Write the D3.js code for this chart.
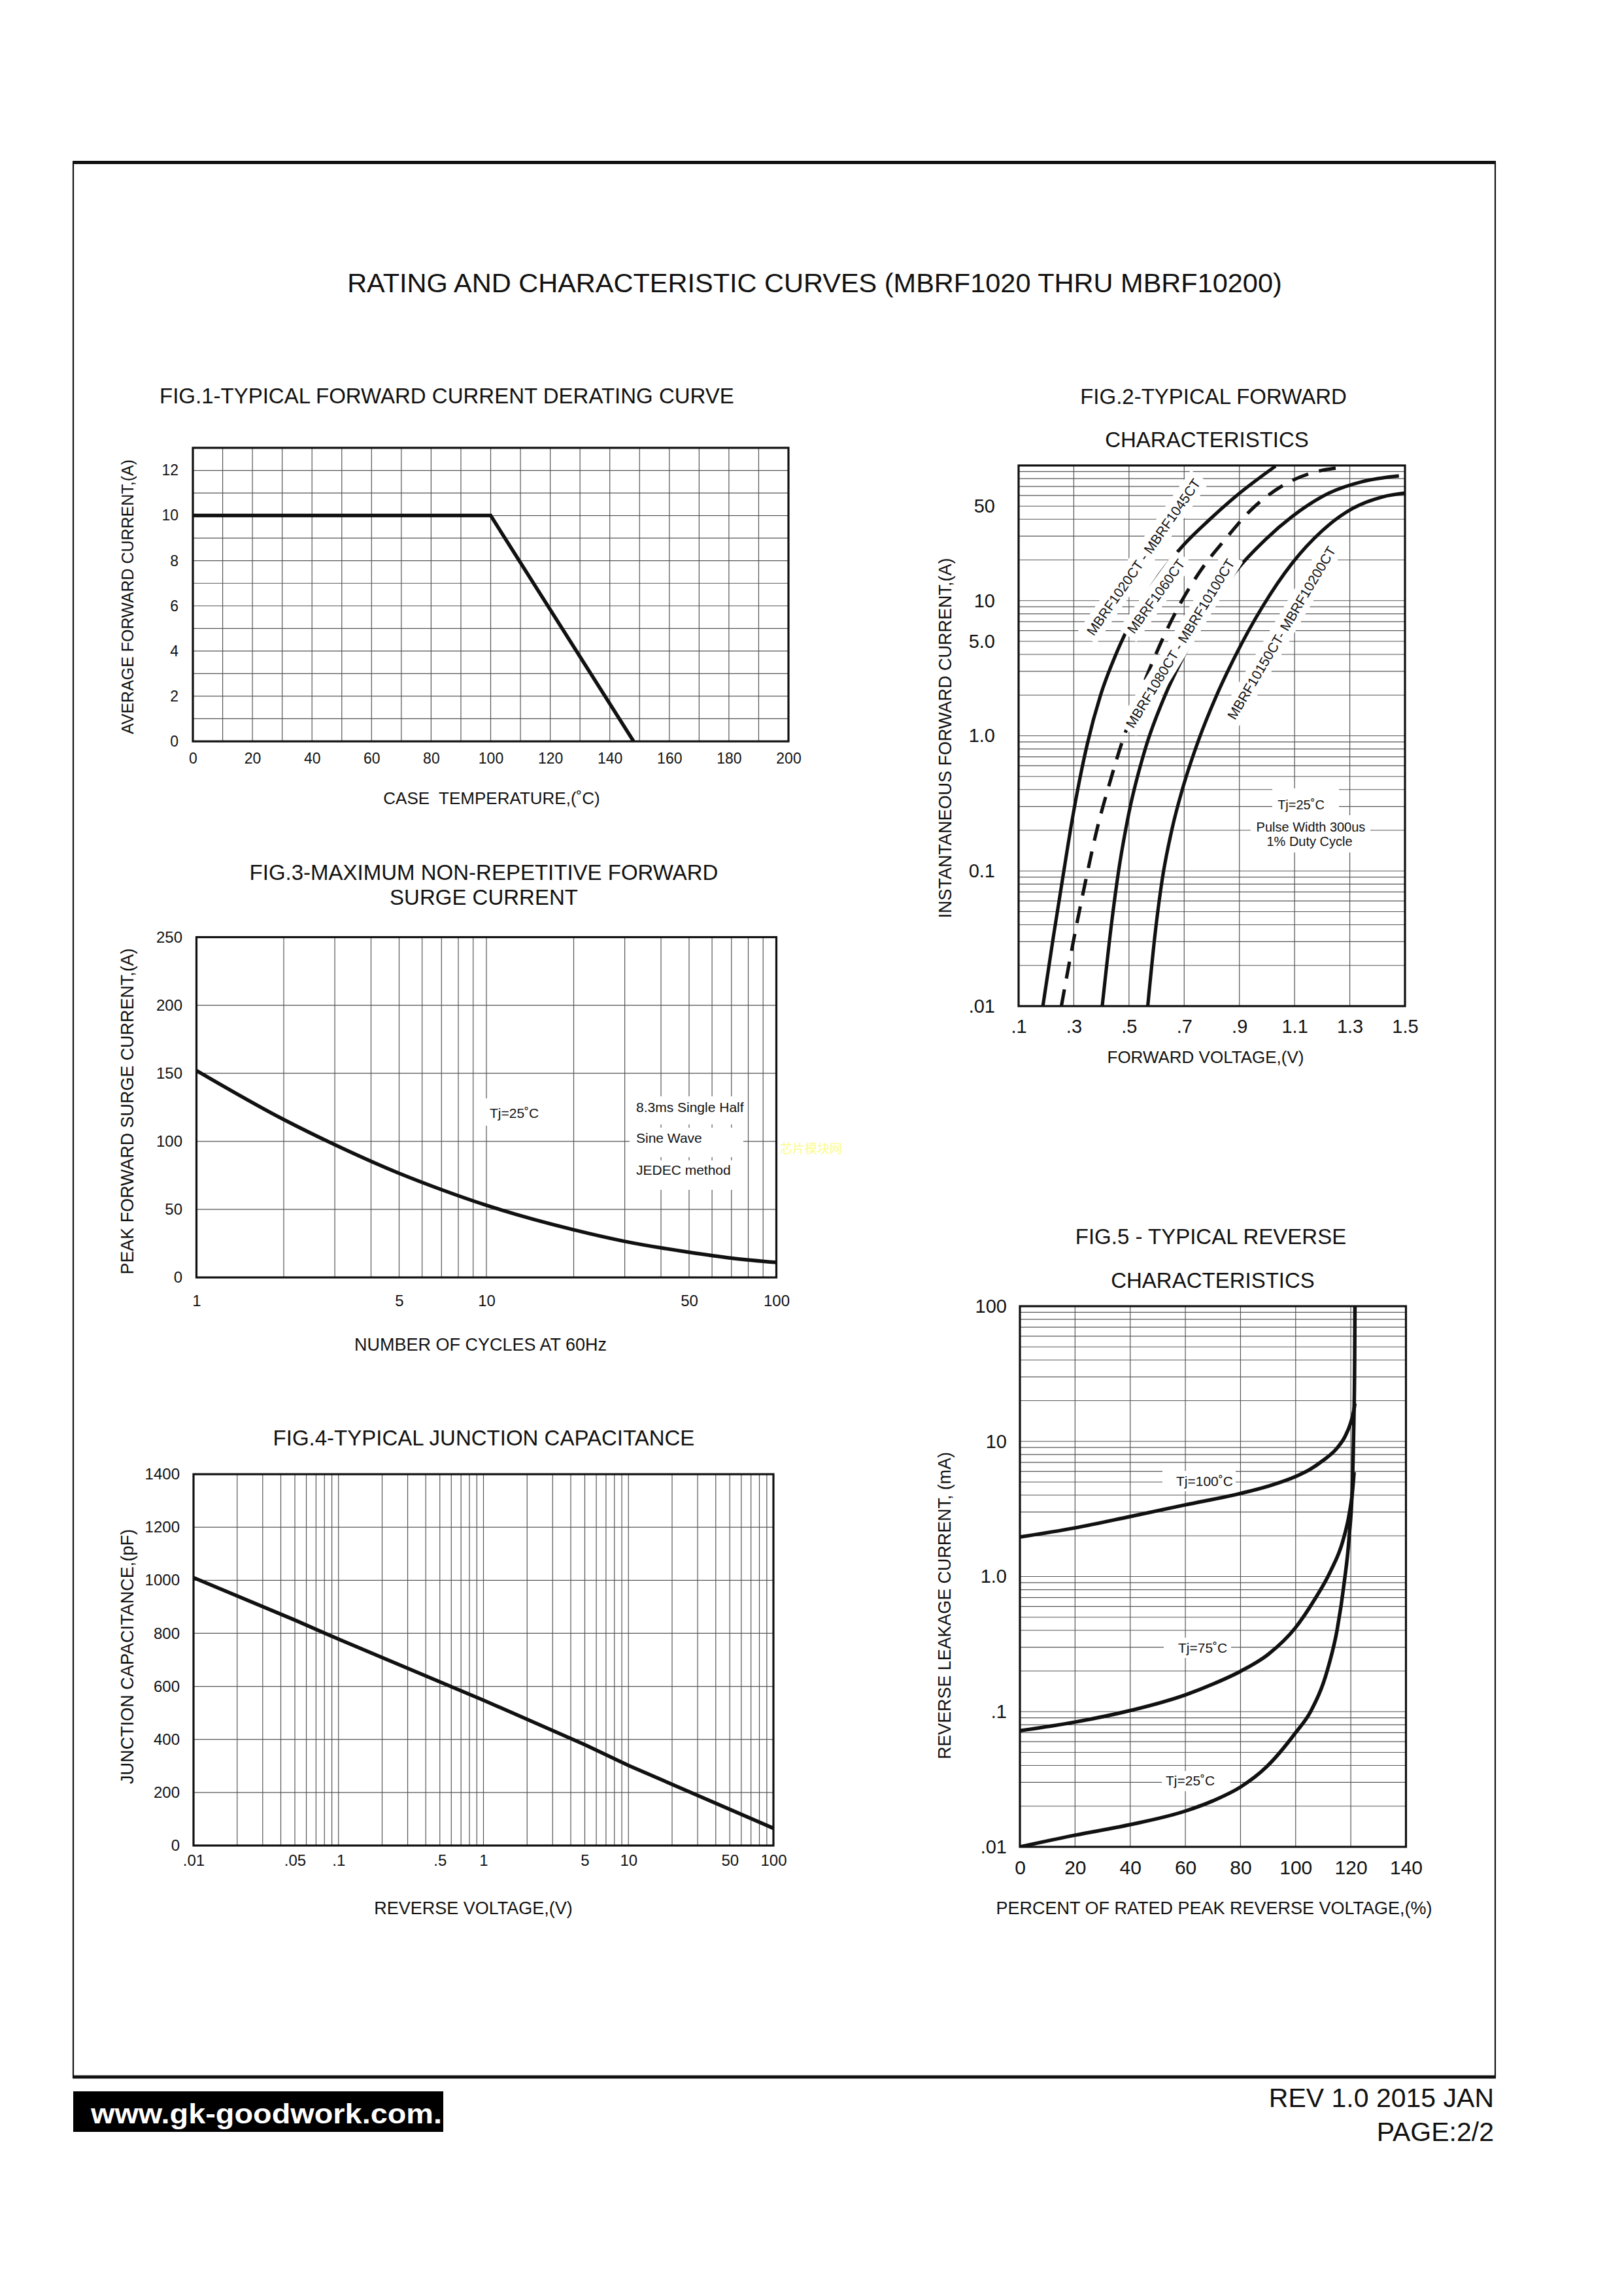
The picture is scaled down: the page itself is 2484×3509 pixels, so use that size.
<!DOCTYPE html>
<html><head><meta charset="utf-8"><title>MBRF1020 thru MBRF10200 curves</title>
<script src="https://cdn.jsdelivr.net/npm/d3@7/dist/d3.min.js"></script>
<style>html,body{margin:0;padding:0;background:#fff}svg{display:block}</style>
</head><body>
<svg id="page" width="2484" height="3509" xmlns="http://www.w3.org/2000/svg"></svg>
<script>
// ================= DATA =================
// Fig.1 derating curve
const fig1Temp = [0, 100, 148];
const fig1Current = [10, 10, 0];
const fig1XTicks = [0, 20, 40, 60, 80, 100, 120, 140, 160, 180, 200];
const fig1YTicks = [0, 2, 4, 6, 8, 10, 12];
const fig1XGrid = [10, 20, 30, 40, 50, 60, 70, 80, 90, 100, 110, 120, 130, 140, 150, 160, 170, 180, 190];
const fig1YGrid = [1, 2, 3, 4, 5, 6, 7, 8, 9, 10, 11, 12];

// Fig.2 forward characteristics (V, A)
const fig2VoltA = [0.188, 0.225, 0.26, 0.296, 0.349, 0.397, 0.452, 0.492, 0.586, 0.697, 0.792, 0.886, 1.031];
const fig2CurrA = [0.01, 0.0316, 0.0891, 0.251, 0.871, 2.0, 3.98, 6.03, 13.2, 25.7, 39.8, 58.9, 98.9];
const fig2VoltB = [0.255, 0.291, 0.337, 0.388, 0.43, 0.476, 0.519, 0.543, 0.626, 0.689, 0.764, 0.851, 0.942, 1.056, 1.183, 1.25];
const fig2CurrB = [0.01, 0.0251, 0.0741, 0.219, 0.447, 0.912, 1.58, 2.14, 5.43, 9.77, 17.2, 28.8, 46.8, 70.8, 90.4, 95.5];
const fig2VoltC = [0.403, 0.439, 0.463, 0.499, 0.560, 0.632, 0.693, 0.789, 0.886, 0.995, 1.091, 1.225, 1.345, 1.478];
const fig2CurrC = [0.01, 0.0445, 0.102, 0.264, 0.813, 2.02, 3.70, 8.37, 16.4, 28.4, 41.9, 62.5, 75.9, 83.8];
const fig2VoltD = [0.568, 0.596, 0.620, 0.657, 0.693, 0.753, 0.814, 0.886, 0.983, 1.091, 1.200, 1.309, 1.418, 1.500];
const fig2CurrD = [0.01, 0.0363, 0.0855, 0.209, 0.399, 0.94, 1.92, 3.93, 8.97, 18.9, 32.9, 47.9, 58.5, 62.5];
const fig2SeriesNames = ["MBRF1020CT - MBRF1045CT", "MBRF1060CT", "MBRF1080CT - MBRF10100CT", "MBRF10150CT- MBRF10200CT"];
const fig2XTicks = [0.1, 0.3, 0.5, 0.7, 0.9, 1.1, 1.3, 1.5];
const fig2XLabels = [".1", ".3", ".5", ".7", ".9", "1.1", "1.3", "1.5"];
const fig2YTicks = [50, 10, 5, 1, 0.1, 0.01];
const fig2YLabels = ["50", "10", "5.0", "1.0", "0.1", ".01"];
const fig2Notes = ["Tj=25˚C", "Pulse Width 300us", "1% Duty Cycle"];

// Fig.3 surge current
const fig3Cycles = [1, 2, 3, 5, 7, 10, 20, 30, 50, 70, 100];
const fig3Surge = [152, 116, 97.5, 76.5, 64.5, 53, 35, 26.5, 18.5, 14.2, 11];
const fig3XTicks = [1, 5, 10, 50, 100];
const fig3YTicks = [0, 50, 100, 150, 200, 250];
const fig3Notes = ["8.3ms Single Half", "Sine Wave", "JEDEC method"];

// Fig.4 junction capacitance
const fig4Volt = [0.01, 0.05, 0.1, 1, 5, 10, 100];
const fig4Cap = [1010, 850, 778, 548, 380, 302, 65];
const fig4XTicks = [0.01, 0.05, 0.1, 0.5, 1, 5, 10, 50, 100];
const fig4XLabels = [".01", ".05", ".1", ".5", "1", "5", "10", "50", "100"];
const fig4YTicks = [0, 200, 400, 600, 800, 1000, 1200, 1400];

// Fig.5 reverse characteristics (% of VRRM, mA)
const fig5Pct100 = [0, 20, 40, 60, 80, 90, 100, 105, 110, 115, 118, 120, 121, 121.5];
const fig5Cur100 = [1.96, 2.29, 2.78, 3.39, 4.12, 4.66, 5.5, 6.17, 7.24, 8.91, 10.96, 13.8, 16.6, 19.05];
const fig5Pct75 = [0, 20, 40, 60, 70, 80, 90, 100, 106.6, 112.7, 117, 119.4, 120.6, 121.2];
const fig5Cur75 = [0.0723, 0.0838, 0.102, 0.133, 0.160, 0.199, 0.265, 0.42, 0.662, 1.10, 1.80, 2.88, 4.25, 5.92];
const fig5Pct25 = [0, 20, 40, 60, 70, 80, 89.4, 100, 105.4, 111.5, 115.1, 117.6, 119.4, 120.6, 121.1, 121.4, 121.5];
const fig5Cur25 = [0.01, 0.0122, 0.0146, 0.0184, 0.0219, 0.0277, 0.039, 0.07, 0.1, 0.203, 0.41, 0.9, 1.96, 5, 13.8, 40, 100];
const fig5XTicks = [0, 20, 40, 60, 80, 100, 120, 140];
const fig5YTicks = [100, 10, 1, 0.1, 0.01];
const fig5YLabels = ["100", "10", "1.0", ".1", ".01"];
const fig5Labels = ["Tj=100˚C", "Tj=75˚C", "Tj=25˚C"];

// ================= DRAWING =================
const FONT = '"Liberation Sans", Arial, Helvetica, sans-serif';
const INK = '#111';
const GRID = '#555';
const svg = d3.select('#page');
const defs = svg.append('defs');
svg.append('rect').attr('width', 2484).attr('height', 3509).attr('fill', '#fff');

function text(parent, x, y, s, size, opts = {}) {
  const t = parent.append('text').attr('x', x).attr('y', y).text(s)
    .attr('font-family', opts.family || FONT).attr('font-size', size)
    .attr('fill', opts.fill || INK)
    .attr('text-anchor', opts.anchor || 'start');
  if (opts.weight) t.attr('font-weight', opts.weight);
  if (opts.length) t.attr('textLength', opts.length).attr('lengthAdjust', 'spacingAndGlyphs');
  if (opts.pre) t.style('white-space', 'pre');
  return t;
}
function vtext(parent, x, y, s, size, length) {
  const g = parent.append('g').attr('transform', `translate(${x},${y}) rotate(-90)`);
  text(g, 0, 0, s, size, {anchor: 'middle', length: length});
}
function vgrid(g, xs, vals, y0, y1) {
  g.append('g').selectAll('line').data(vals).join('line')
    .attr('x1', d => xs(d)).attr('x2', d => xs(d)).attr('y1', y0).attr('y2', y1)
    .attr('stroke', GRID).attr('stroke-width', 1.2);
}
function hgrid(g, ys, vals, x0, x1) {
  g.append('g').selectAll('line').data(vals).join('line')
    .attr('y1', d => ys(d)).attr('y2', d => ys(d)).attr('x1', x0).attr('x2', x1)
    .attr('stroke', GRID).attr('stroke-width', 1.2);
}
function frame(g, x0, y0, x1, y1) {
  g.append('rect').attr('x', x0).attr('y', y0).attr('width', x1 - x0).attr('height', y1 - y0)
    .attr('fill', 'none').attr('stroke', INK).attr('stroke-width', 3.2);
}
function styleAxis(a, size) {
  a.select('.domain').remove();
  a.selectAll('line').remove();
  a.attr('font-family', FONT).attr('font-size', size).attr('fill', null);
  a.selectAll('text').attr('fill', INK);
}
function bottomAxis(g, scale, y, vals, labels, size, pad) {
  const a = g.append('g').attr('transform', `translate(0,${y})`)
    .call(d3.axisBottom(scale).tickValues(vals).tickFormat((d, i) => labels ? labels[i] : d).tickSize(0).tickPadding(pad));
  styleAxis(a, size);
}
function leftAxis(g, scale, x, vals, labels, size, pad) {
  const a = g.append('g').attr('transform', `translate(${x},0)`)
    .call(d3.axisLeft(scale).tickValues(vals).tickFormat((d, i) => labels ? labels[i] : d).tickSize(0).tickPadding(pad));
  styleAxis(a, size);
}
function clip(id, x0, y0, x1, y1) {
  defs.append('clipPath').attr('id', id).append('rect')
    .attr('x', x0).attr('y', y0).attr('width', x1 - x0).attr('height', y1 - y0);
}
function logMinor(lo, hi) {
  const out = [];
  for (let e = Math.round(Math.log10(lo)); e < Math.round(Math.log10(hi)); e++) {
    for (let m = 1; m <= 9; m++) { const v = m * Math.pow(10, e); if (v > lo * 1.0001) out.push(v); }
  }
  return out;
}
function whiteBox(g, x0, y0, x1, y1) {
  g.append('rect').attr('x', x0).attr('y', y0).attr('width', x1 - x0).attr('height', y1 - y0).attr('fill', '#fff');
}

// ---------- page frame ----------
svg.append('line').attr('x1', 112).attr('x2', 112).attr('y1', 248).attr('y2', 3178).attr('stroke', INK).attr('stroke-width', 2.2);
svg.append('line').attr('x1', 2287).attr('x2', 2287).attr('y1', 248).attr('y2', 3178).attr('stroke', INK).attr('stroke-width', 2.2);
svg.append('line').attr('x1', 111).attr('x2', 2288).attr('y1', 248.5).attr('y2', 248.5).attr('stroke', INK).attr('stroke-width', 5);
svg.append('line').attr('x1', 111).attr('x2', 2288).attr('y1', 3177).attr('y2', 3177).attr('stroke', INK).attr('stroke-width', 5);

text(svg, 1246, 447, 'RATING AND CHARACTERISTIC CURVES (MBRF1020 THRU MBRF10200)', 41.5, {anchor: 'middle'});

// footer
svg.append('rect').attr('x', 112).attr('y', 3199).attr('width', 566).attr('height', 62).attr('fill', '#000');
text(svg, 139, 3248, 'www.gk-goodwork.com.', 42, {fill: '#fff', weight: 'bold', length: 537});
text(svg, 2285, 3223, 'REV 1.0 2015 JAN', 41, {anchor: 'end'});
text(svg, 2285, 3275, 'PAGE:2/2', 41, {anchor: 'end'});

// ---------- FIG.1 ----------
(function () {
  const g = svg.append('g');
  const L = 295, R = 1206, T = 685, B = 1134;
  const x = d3.scaleLinear([0, 200], [L, R]);
  const y = d3.scaleLinear([0, 13], [B, T]);
  vgrid(g, x, fig1XGrid, T, B);
  hgrid(g, y, fig1YGrid, L, R);
  g.append('path').datum(d3.zip(fig1Temp, fig1Current))
    .attr('d', d3.line().x(d => x(d[0])).y(d => y(d[1])))
    .attr('fill', 'none').attr('stroke', INK).attr('stroke-width', 5.5).attr('stroke-linejoin', 'miter');
  frame(g, L, T, R, B);
  bottomAxis(g, x, B, fig1XTicks, null, 23, 17.5);
  leftAxis(g, y, L, fig1YTicks, null, 23, 22);
  text(g, 244, 617, 'FIG.1-TYPICAL FORWARD CURRENT DERATING CURVE', 33);
  text(g, 752, 1230, 'CASE  TEMPERATURE,(˚C)', 26, {anchor: 'middle', pre: true});
  vtext(g, 204, 913, 'AVERAGE FORWARD CURRENT,(A)', 26, 420);
})();

// ---------- FIG.2 ----------
(function () {
  const g = svg.append('g');
  const L = 1558, R = 2149, T = 712, B = 1539;
  const x = d3.scaleLinear([0.1, 1.5], [L, R]);
  const y = d3.scaleLog([0.01, 100], [B, T]);
  clip('clip2', L, T, R, B);
  hgrid(g, y, logMinor(0.01, 100), L, R);
  vgrid(g, x, [0.3, 0.5, 0.7, 0.9, 1.1, 1.3], T, B);
  const line = d3.line().x(d => x(d[0])).y(d => y(d[1])).curve(d3.curveMonotoneX);
  const cg = g.append('g').attr('clip-path', 'url(#clip2)');
  const series = [[fig2VoltA, fig2CurrA, false], [fig2VoltB, fig2CurrB, true], [fig2VoltC, fig2CurrC, false], [fig2VoltD, fig2CurrD, false]];
  series.forEach(s => {
    cg.append('path').datum(d3.zip(s[0], s[1])).attr('d', line)
      .attr('fill', 'none').attr('stroke', INK).attr('stroke-width', 5.2)
      .attr('stroke-dasharray', s[2] ? '26,17' : null);
  });
  // rotated series labels with white backing
  const lab = [[1749, 852, 55], [1768, 912, 54], [1805, 984, 58.5], [1960, 968, 59.3]];
  lab.forEach((p, i) => {
    const lg = g.append('g').attr('transform', `translate(${p[0]},${p[1]}) rotate(${-p[2]})`);
    const r = lg.append('rect').attr('fill', '#fff');
    const t = text(lg, 0, 0, fig2SeriesNames[i], 21, {anchor: 'middle'}).attr('dy', '0.36em');
    const w = t.node().getComputedTextLength() + 14;
    r.attr('x', -w / 2).attr('y', -17).attr('width', w).attr('height', 34);
  });
  // test-condition note
  whiteBox(g, 1946, 1206, 2048, 1247);
  whiteBox(g, 1913, 1247, 2096, 1304);
  text(g, 1990, 1238, fig2Notes[0], 20, {anchor: 'middle'});
  text(g, 2005, 1272, fig2Notes[1], 20, {anchor: 'middle'});
  text(g, 2003, 1294, fig2Notes[2], 20, {anchor: 'middle'});
  frame(g, L, T, R, B);
  bottomAxis(g, x, B, fig2XTicks, fig2XLabels, 29, 20.5);
  leftAxis(g, y, L, fig2YTicks, fig2YLabels, 29, 36);
  text(g, 1856, 618, 'FIG.2-TYPICAL FORWARD', 33, {anchor: 'middle'});
  text(g, 1846, 684, 'CHARACTERISTICS', 33, {anchor: 'middle'});
  text(g, 1844, 1626, 'FORWARD VOLTAGE,(V)', 26, {anchor: 'middle'});
  vtext(g, 1455, 1129, 'INSTANTANEOUS FORWARD CURRENT,(A)', 28, 551);
})();

// ---------- FIG.3 ----------
(function () {
  const g = svg.append('g');
  const L = 300.5, R = 1187.5, T = 1433.5, B = 1954;
  const x = d3.scaleLog([1, 100], [L, R]);
  const y = d3.scaleLinear([0, 250], [B, T]);
  vgrid(g, x, logMinor(1, 100), T, B);
  hgrid(g, y, [50, 100, 150, 200], L, R);
  whiteBox(g, 735, 1680, 835, 1722);
  whiteBox(g, 963, 1677, 1137, 1720);
  whiteBox(g, 963, 1725, 1137, 1770);
  whiteBox(g, 963, 1775, 1137, 1820);
  g.append('path').datum(d3.zip(fig3Cycles, fig3Surge))
    .attr('d', d3.line().x(d => x(d[0])).y(d => y(d[1])).curve(d3.curveMonotoneX))
    .attr('fill', 'none').attr('stroke', INK).attr('stroke-width', 5.5);
  text(g, 749, 1710, 'Tj=25˚C', 21);
  text(g, 973, 1701, fig3Notes[0], 21);
  text(g, 973, 1748, fig3Notes[1], 21);
  text(g, 973, 1797, fig3Notes[2], 21);
  text(g, 1193, 1764, '芯片模块网', 19, {fill: '#fbfb8a', family: '"Noto Sans CJK SC", sans-serif'});
  frame(g, L, T, R, B);
  bottomAxis(g, x, B, fig3XTicks, null, 24, 27);
  leftAxis(g, y, L, fig3YTicks, null, 24, 21.5);
  text(g, 740, 1346, 'FIG.3-MAXIMUM NON-REPETITIVE FORWARD', 33, {anchor: 'middle'});
  text(g, 740, 1384, 'SURGE CURRENT', 33, {anchor: 'middle'});
  text(g, 735, 2066, 'NUMBER OF CYCLES AT 60Hz', 27, {anchor: 'middle'});
  vtext(g, 204, 1700, 'PEAK FORWARD SURGE CURRENT,(A)', 28, 499);
})();

// ---------- FIG.4 ----------
(function () {
  const g = svg.append('g');
  const L = 296, R = 1183, T = 2255, B = 2823;
  const x = d3.scaleLog([0.01, 100], [L, R]);
  const y = d3.scaleLinear([0, 1400], [B, T]);
  vgrid(g, x, logMinor(0.01, 100), T, B);
  hgrid(g, y, [200, 400, 600, 800, 1000, 1200], L, R);
  g.append('path').datum(d3.zip(fig4Volt, fig4Cap))
    .attr('d', d3.line().x(d => x(d[0])).y(d => y(d[1])))
    .attr('fill', 'none').attr('stroke', INK).attr('stroke-width', 5.5);
  frame(g, L, T, R, B);
  bottomAxis(g, x, B, fig4XTicks, fig4XLabels, 24, 14);
  leftAxis(g, y, L, fig4YTicks, null, 24, 21);
  text(g, 740, 2211, 'FIG.4-TYPICAL JUNCTION CAPACITANCE', 33, {anchor: 'middle'});
  text(g, 724, 2928, 'REVERSE VOLTAGE,(V)', 27, {anchor: 'middle'});
  vtext(g, 204, 2534, 'JUNCTION CAPACITANCE,(pF)', 28, 390);
})();

// ---------- FIG.5 ----------
(function () {
  const g = svg.append('g');
  const L = 1560, R = 2150.5, T = 1998, B = 2825;
  const x = d3.scaleLinear([0, 140], [L, R]);
  const y = d3.scaleLog([0.01, 100], [B, T]);
  clip('clip5', L, T, R, B);
  hgrid(g, y, logMinor(0.01, 100), L, R);
  vgrid(g, x, [20, 40, 60, 80, 100, 120], T, B);
  whiteBox(g, 1778, 2250, 1890, 2281);
  whiteBox(g, 1780, 2505, 1883, 2536);
  whiteBox(g, 1777, 2709, 1882, 2740);
  const line = d3.line().x(d => x(d[0])).y(d => y(d[1])).curve(d3.curveMonotoneX);
  const cg = g.append('g').attr('clip-path', 'url(#clip5)');
  [[fig5Pct100, fig5Cur100], [fig5Pct75, fig5Cur75], [fig5Pct25, fig5Cur25]].forEach(s => {
    cg.append('path').datum(d3.zip(s[0], s[1])).attr('d', line)
      .attr('fill', 'none').attr('stroke', INK).attr('stroke-width', 5.5);
  });
  text(g, 1799, 2273, fig5Labels[0], 21);
  text(g, 1802, 2528, fig5Labels[1], 21);
  text(g, 1783, 2731, fig5Labels[2], 21);
  frame(g, L, T, R, B);
  bottomAxis(g, x, B, fig5XTicks, null, 30, 20.5);
  leftAxis(g, y, L, fig5YTicks, fig5YLabels, 29, 20);
  text(g, 1852, 1903, 'FIG.5 - TYPICAL REVERSE', 33, {anchor: 'middle'});
  text(g, 1855, 1970, 'CHARACTERISTICS', 33, {anchor: 'middle'});
  text(g, 1857, 2928, 'PERCENT OF RATED PEAK REVERSE VOLTAGE,(%)', 27, {anchor: 'middle'});
  vtext(g, 1454, 2456, 'REVERSE LEAKAGE CURRENT, (mA)', 28, 470);
})();
</script>
</body></html>
